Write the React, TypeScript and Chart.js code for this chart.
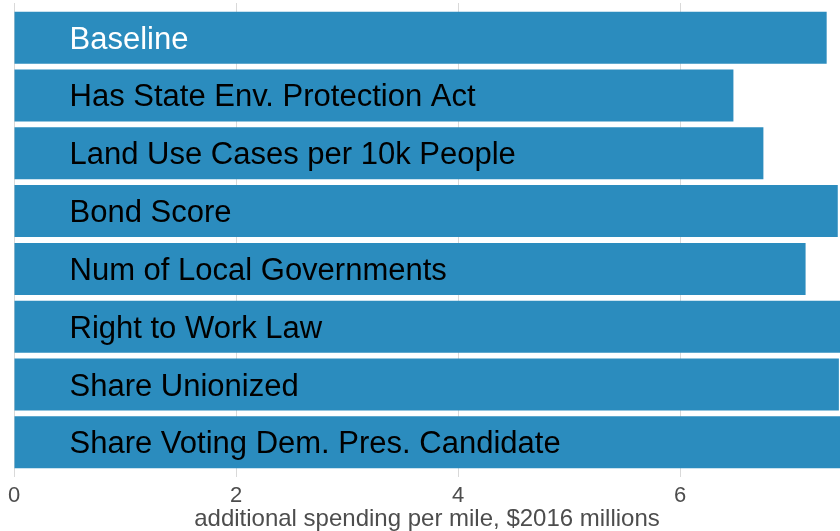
import React, { useEffect, useRef } from "react";
import { Chart, registerables } from "chart.js";

Chart.register(...registerables);

const categories = [
  "Baseline",
  "Has State Env. Protection Act",
  "Land Use Cases per 10k People",
  "Bond Score",
  "Num of Local Governments",
  "Right to Work Law",
  "Share Unionized",
  "Share Voting Dem. Pres. Candidate",
];
const values = [7.32, 6.48, 6.75, 7.42, 7.13, 7.6, 7.43, 7.6];
const xTicks = [0, 2, 4, 6];
const xMin = 0;
const xMax = 7.44;
const labelAnchor = 0.5;
const axisTitle = "additional spending per mile, $2016 millions";

const FONT = "'Liberation Sans', Arial, Helvetica, sans-serif";

export default function App() {
  const ref = useRef<HTMLCanvasElement | null>(null);

  useEffect(() => {
    if (!ref.current) return;
    const labelPlugin = {
      id: "barLabels",
      afterDatasetsDraw(chart: any) {
        const ctx = chart.ctx;
        const xs = chart.scales.x;
        const ys = chart.scales.y;
        ctx.save();
        ctx.font = `31px ${FONT}`;
        ctx.textAlign = "left";
        ctx.textBaseline = "alphabetic";
        categories.forEach((c, i) => {
          ctx.fillStyle = i === 0 ? "#ffffff" : "#000000";
          const y = ys.getPixelForValue(i);
          ctx.fillText(c, xs.getPixelForValue(labelAnchor), y + 11);
        });
        ctx.restore();
      },
    };
    const chart = new Chart(ref.current, {
      type: "bar",
      data: {
        datasets: [
          {
            data: values.map((v, i) => ({ x: v, y: i })),
            backgroundColor: "#2b8cbe",
            borderWidth: 0,
            barPercentage: 1,
            categoryPercentage: 0.9,
          },
        ],
      },
      options: {
        indexAxis: "y",
        animation: false,
        responsive: false,
        maintainAspectRatio: false,
        layout: { padding: { left: 14, top: 3, right: 0, bottom: 0 } },
        plugins: {
          legend: { display: false },
          tooltip: { enabled: false },
        },
        scales: {
          y: {
            type: "linear",
            min: -0.6,
            max: 7.6,
            reverse: true,
            offset: false,
            display: false,
            afterBuildTicks: (scale: any) => {
              scale.ticks = categories.map((_, i) => ({ value: i }));
            },
          },
          x: {
            type: "linear",
            min: xMin,
            max: xMax,
            offset: false,
            afterBuildTicks: (scale: any) => {
              scale.ticks = xTicks.map((v) => ({ value: v }));
            },
            afterFit: (scale: any) => {
              scale.height = 54;
              scale.paddingLeft = 0;
              scale.paddingRight = 0;
            },
            border: { display: false },
            grid: { color: "#d9d9d9", lineWidth: 1, drawTicks: false },
            ticks: {
              color: "#4d4d4d",
              font: { family: FONT, size: 22 },
              padding: 6,
              maxRotation: 0,
              autoSkip: false,
            },
            title: {
              display: true,
              text: axisTitle,
              color: "#4d4d4d",
              font: { family: FONT, size: 24, lineHeight: 1.0 },
              padding: { top: 0, bottom: 0 },
            },
          },
        },
      },
      plugins: [labelPlugin],
    });
    return () => chart.destroy();
  }, []);

  return (
    <div style={{ position: "fixed", left: 0, top: 0, width: 840, height: 531, background: "#fff" }}>
      <canvas ref={ref} width={840} height={531} style={{ display: "block" }} />
    </div>
  );
}
